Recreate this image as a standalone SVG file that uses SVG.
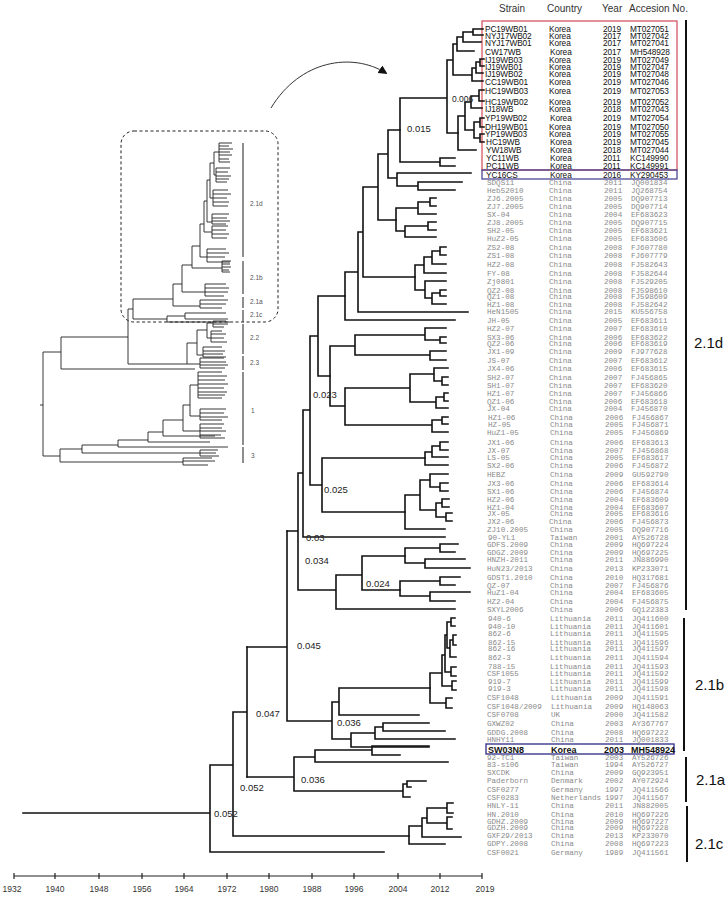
<svg xmlns="http://www.w3.org/2000/svg" width="727" height="897" viewBox="0 0 727 897">
<style>
.t{fill:none;stroke:#111;stroke-width:1.6;stroke-linecap:square}
.i{fill:none;stroke:#222;stroke-width:0.9}
.bar{stroke:#111;stroke-width:2}
.ibar{stroke:#444;stroke-width:1.2}
.k{font-family:"Liberation Sans",Arial,sans-serif;font-size:8.3px;fill:#111;letter-spacing:-0.1px}
.c{font-family:"Liberation Mono","Courier New",monospace;font-size:7.6px;fill:#8a8a8a}
.h{font-family:"Liberation Sans",Arial,sans-serif;font-size:10px;fill:#333}
.bl{font-family:"Liberation Sans",Arial,sans-serif;font-size:9.5px;fill:#222}
.cl{font-family:"Liberation Sans",Arial,sans-serif;font-size:15px;fill:#111}
.il{font-family:"Liberation Sans",Arial,sans-serif;font-size:6.5px;fill:#555}
.ax{font-family:"Liberation Sans",Arial,sans-serif;font-size:8.5px;fill:#333;text-anchor:middle}
</style>
<defs>
<marker id="ah" viewBox="0 0 10 10" refX="8" refY="5" markerWidth="9" markerHeight="9" orient="auto" markerUnits="userSpaceOnUse"><path d="M0 0 L10 5 L0 10 z" fill="#111"/></marker>
</defs>
<rect width="727" height="897" fill="#fff"/>

<g id="header">
<text class="h" x="499" y="12">Strain</text>
<text class="h" x="547" y="12">Country</text>
<text class="h" x="602" y="12">Year</text>
<text class="h" x="629" y="12">Accesion No.</text>
</g>

<g id="boxes" fill="none">
<rect x="482" y="21" width="195" height="149" stroke="#d24a55" stroke-width="1.2"/>
<rect x="482" y="170" width="195" height="9" stroke="#3c3a8e" stroke-width="1.2"/>
<rect x="486" y="744" width="188" height="10" stroke="#3c3a8e" stroke-width="1.4"/>
</g>

<g id="korea-rows" class="k">
<text y="32"><tspan x="485">PC19WB01</tspan><tspan x="549">Korea</tspan><tspan x="603">2019</tspan><tspan x="630">MT027051</tspan></text>
<text y="38.5"><tspan x="485">NYJ17WB02</tspan><tspan x="549">Korea</tspan><tspan x="603">2017</tspan><tspan x="630">MT027042</tspan></text>
<text y="45.5"><tspan x="485">NYJ17WB01</tspan><tspan x="549">Korea</tspan><tspan x="603">2017</tspan><tspan x="630">MT027041</tspan></text>
<text y="54.5"><tspan x="485">CW17WB</tspan><tspan x="550">Korea</tspan><tspan x="603">2017</tspan><tspan x="630">MH548928</tspan></text>
<text y="62.5"><tspan x="485">IJ19WB03</tspan><tspan x="549">Korea</tspan><tspan x="603">2019</tspan><tspan x="630">MT027049</tspan></text>
<text y="69.5"><tspan x="485">IJ19WB01</tspan><tspan x="549">Korea</tspan><tspan x="603">2019</tspan><tspan x="630">MT027047</tspan></text>
<text y="76.5"><tspan x="485">IJ19WB02</tspan><tspan x="549">Korea</tspan><tspan x="603">2019</tspan><tspan x="630">MT027048</tspan></text>
<text y="84.5"><tspan x="485">CC19WB01</tspan><tspan x="549">Korea</tspan><tspan x="603">2019</tspan><tspan x="630">MT027046</tspan></text>
<text y="93.5"><tspan x="485">HC19WB03</tspan><tspan x="549">Korea</tspan><tspan x="603">2019</tspan><tspan x="630">MT027053</tspan></text>
<text y="104.5"><tspan x="485">HC19WB02</tspan><tspan x="549">Korea</tspan><tspan x="603">2019</tspan><tspan x="630">MT027052</tspan></text>
<text y="111.5"><tspan x="485">IJ18WB</tspan><tspan x="549">Korea</tspan><tspan x="603">2018</tspan><tspan x="630">MT027043</tspan></text>
<text y="121"><tspan x="485">YP19WB02</tspan><tspan x="550">Korea</tspan><tspan x="603">2019</tspan><tspan x="630">MT027054</tspan></text>
<text y="130"><tspan x="485">DH19WB01</tspan><tspan x="549">Korea</tspan><tspan x="603">2019</tspan><tspan x="630">MT027050</tspan></text>
<text y="137"><tspan x="485">YP19WB03</tspan><tspan x="549">Korea</tspan><tspan x="603">2019</tspan><tspan x="630">MT027055</tspan></text>
<text y="145"><tspan x="486">HC19WB</tspan><tspan x="550">Korea</tspan><tspan x="603">2019</tspan><tspan x="630">MT027045</tspan></text>
<text y="153"><tspan x="486">YW18WB</tspan><tspan x="550">Korea</tspan><tspan x="603">2018</tspan><tspan x="630">MT027044</tspan></text>
<text y="161"><tspan x="486">YC11WB</tspan><tspan x="550">Korea</tspan><tspan x="603">2011</tspan><tspan x="630">KC149990</tspan></text>
<text y="169"><tspan x="486">PC11WB</tspan><tspan x="550">Korea</tspan><tspan x="603">2011</tspan><tspan x="630">KC149991</tspan></text>
<text y="177.5"><tspan x="486">YC16CS</tspan><tspan x="550">Korea</tspan><tspan x="603">2016</tspan><tspan x="630">KY290453</tspan></text>
</g>

<g id="other-rows" class="c">
<text y="185"><tspan x="487">SDQS11</tspan><tspan x="549">China</tspan><tspan x="604">2011</tspan><tspan x="631">JQ001834</tspan></text>
<text y="193"><tspan x="487">Heb52010</tspan><tspan x="549">China</tspan><tspan x="604">2011</tspan><tspan x="631">JQ268754</tspan></text>
<text y="201"><tspan x="487">ZJ6.2005</tspan><tspan x="549">China</tspan><tspan x="604">2005</tspan><tspan x="631">DQ907713</tspan></text>
<text y="209"><tspan x="487">ZJ7.2005</tspan><tspan x="549">China</tspan><tspan x="604">2005</tspan><tspan x="631">DQ907714</tspan></text>
<text y="217"><tspan x="487">SX-04</tspan><tspan x="549">China</tspan><tspan x="604">2004</tspan><tspan x="631">EF683623</tspan></text>
<text y="225"><tspan x="487">ZJ8.2005</tspan><tspan x="549">China</tspan><tspan x="604">2005</tspan><tspan x="631">DQ907715</tspan></text>
<text y="233"><tspan x="487">SH2-05</tspan><tspan x="549">China</tspan><tspan x="604">2005</tspan><tspan x="631">EF683621</tspan></text>
<text y="240.5"><tspan x="487">HuZ2-05</tspan><tspan x="549">China</tspan><tspan x="604">2005</tspan><tspan x="631">EF683606</tspan></text>
<text y="250"><tspan x="487">ZS2-08</tspan><tspan x="549">China</tspan><tspan x="604">2008</tspan><tspan x="631">FJ607780</tspan></text>
<text y="258"><tspan x="487">ZS1-08</tspan><tspan x="549">China</tspan><tspan x="604">2008</tspan><tspan x="631">FJ607779</tspan></text>
<text y="267"><tspan x="487">HZ2-08</tspan><tspan x="549">China</tspan><tspan x="604">2008</tspan><tspan x="631">FJ582643</tspan></text>
<text y="276"><tspan x="487">FY-08</tspan><tspan x="549">China</tspan><tspan x="604">2008</tspan><tspan x="631">FJ582644</tspan></text>
<text y="284"><tspan x="487">Zj0801</tspan><tspan x="549">China</tspan><tspan x="604">2008</tspan><tspan x="631">FJ529205</tspan></text>
<text y="293"><tspan x="487">QZ2-08</tspan><tspan x="549">China</tspan><tspan x="604">2008</tspan><tspan x="631">FJ598610</tspan></text>
<text y="299"><tspan x="487">QZ1-08</tspan><tspan x="549">China</tspan><tspan x="604">2008</tspan><tspan x="631">FJ598609</tspan></text>
<text y="307"><tspan x="487">HZ1-08</tspan><tspan x="549">China</tspan><tspan x="604">2008</tspan><tspan x="631">FJ582642</tspan></text>
<text y="314"><tspan x="487">HeN1505</tspan><tspan x="549">China</tspan><tspan x="604">2015</tspan><tspan x="631">KU556758</tspan></text>
<text y="323"><tspan x="487">JH-05</tspan><tspan x="549">China</tspan><tspan x="604">2005</tspan><tspan x="631">EF683611</tspan></text>
<text y="331"><tspan x="487">HZ2-07</tspan><tspan x="549">China</tspan><tspan x="604">2007</tspan><tspan x="631">EF683610</tspan></text>
<text y="340"><tspan x="487">SX3-06</tspan><tspan x="549">China</tspan><tspan x="604">2006</tspan><tspan x="631">EF683622</tspan></text>
<text y="346"><tspan x="487">QZ2-06</tspan><tspan x="549">China</tspan><tspan x="604">2006</tspan><tspan x="631">EF683619</tspan></text>
<text y="354"><tspan x="487">JX1-09</tspan><tspan x="549">China</tspan><tspan x="604">2009</tspan><tspan x="631">FJ977628</tspan></text>
<text y="363"><tspan x="487">JS-07</tspan><tspan x="549">China</tspan><tspan x="604">2007</tspan><tspan x="631">EF683612</tspan></text>
<text y="371"><tspan x="487">JX4-06</tspan><tspan x="549">China</tspan><tspan x="604">2006</tspan><tspan x="631">EF683615</tspan></text>
<text y="380"><tspan x="487">SH2-07</tspan><tspan x="549">China</tspan><tspan x="604">2007</tspan><tspan x="631">FJ456865</tspan></text>
<text y="388"><tspan x="487">SH1-07</tspan><tspan x="549">China</tspan><tspan x="604">2007</tspan><tspan x="631">EF683620</tspan></text>
<text y="396"><tspan x="487">HZ1-07</tspan><tspan x="549">China</tspan><tspan x="604">2007</tspan><tspan x="631">FJ456866</tspan></text>
<text y="404"><tspan x="487">QZ1-06</tspan><tspan x="549">China</tspan><tspan x="604">2006</tspan><tspan x="631">EF683618</tspan></text>
<text y="411"><tspan x="487">JX-04</tspan><tspan x="549">China</tspan><tspan x="604">2004</tspan><tspan x="631">FJ456870</tspan></text>
<text y="420"><tspan x="488">HZ1-06</tspan><tspan x="550">China</tspan><tspan x="605">2006</tspan><tspan x="632">FJ456867</tspan></text>
<text y="427"><tspan x="488">HZ-05</tspan><tspan x="550">China</tspan><tspan x="605">2005</tspan><tspan x="632">FJ456871</tspan></text>
<text y="435"><tspan x="487">HuZ1-05</tspan><tspan x="550">China</tspan><tspan x="605">2005</tspan><tspan x="632">FJ456869</tspan></text>
<text y="445"><tspan x="487">JX1-06</tspan><tspan x="550">China</tspan><tspan x="605">2006</tspan><tspan x="632">EF683613</tspan></text>
<text y="453"><tspan x="487">JX-07</tspan><tspan x="550">China</tspan><tspan x="605">2007</tspan><tspan x="632">FJ456868</tspan></text>
<text y="460"><tspan x="487">LS-05</tspan><tspan x="550">China</tspan><tspan x="605">2005</tspan><tspan x="632">EF683617</tspan></text>
<text y="468"><tspan x="487">SX2-06</tspan><tspan x="550">China</tspan><tspan x="605">2006</tspan><tspan x="632">FJ456872</tspan></text>
<text y="477"><tspan x="487">HEBZ</tspan><tspan x="550">China</tspan><tspan x="605">2009</tspan><tspan x="632">GU592790</tspan></text>
<text y="486"><tspan x="487">JX3-06</tspan><tspan x="550">China</tspan><tspan x="605">2006</tspan><tspan x="632">EF683614</tspan></text>
<text y="494"><tspan x="487">SX1-06</tspan><tspan x="550">China</tspan><tspan x="605">2006</tspan><tspan x="632">FJ456874</tspan></text>
<text y="502"><tspan x="487">HZ2-06</tspan><tspan x="550">China</tspan><tspan x="605">2004</tspan><tspan x="632">EF683609</tspan></text>
<text y="510"><tspan x="487">HZ1-04</tspan><tspan x="550">China</tspan><tspan x="605">2004</tspan><tspan x="632">EF683607</tspan></text>
<text y="516"><tspan x="487">JX-05</tspan><tspan x="550">China</tspan><tspan x="605">2005</tspan><tspan x="632">EF683616</tspan></text>
<text y="524"><tspan x="487">JX2-06</tspan><tspan x="549">China</tspan><tspan x="605">2006</tspan><tspan x="632">FJ456873</tspan></text>
<text y="532"><tspan x="487">ZJ10.2005</tspan><tspan x="550">China</tspan><tspan x="605">2005</tspan><tspan x="632">DQ907716</tspan></text>
<text y="540"><tspan x="488">90-YL1</tspan><tspan x="550">Taiwan</tspan><tspan x="605">2001</tspan><tspan x="632">AY526728</tspan></text>
<text y="547"><tspan x="487">GDFS.2009</tspan><tspan x="550">China</tspan><tspan x="605">2009</tspan><tspan x="632">HQ697224</tspan></text>
<text y="555"><tspan x="487">GDGZ.2009</tspan><tspan x="550">China</tspan><tspan x="605">2009</tspan><tspan x="632">HQ697225</tspan></text>
<text y="562"><tspan x="487">HNZH-2011</tspan><tspan x="550">China</tspan><tspan x="605">2011</tspan><tspan x="632">JN886990</tspan></text>
<text y="571"><tspan x="487">HuN23/2013</tspan><tspan x="550">China</tspan><tspan x="605">2013</tspan><tspan x="632">KP233071</tspan></text>
<text y="580"><tspan x="487">GDST1.2010</tspan><tspan x="550">China</tspan><tspan x="605">2010</tspan><tspan x="632">HQ317681</tspan></text>
<text y="588"><tspan x="487">QZ-07</tspan><tspan x="550">China</tspan><tspan x="605">2007</tspan><tspan x="632">FJ456876</tspan></text>
<text y="595"><tspan x="487">HuZ1-04</tspan><tspan x="550">China</tspan><tspan x="605">2004</tspan><tspan x="632">EF683605</tspan></text>
<text y="604"><tspan x="487">HZ2-04</tspan><tspan x="550">China</tspan><tspan x="605">2004</tspan><tspan x="632">FJ456875</tspan></text>
<text y="612"><tspan x="487">SXYL2006</tspan><tspan x="550">China</tspan><tspan x="605">2006</tspan><tspan x="632">GQ122383</tspan></text>
<text y="621"><tspan x="488">940-6</tspan><tspan x="550">Lithuania</tspan><tspan x="605">2011</tspan><tspan x="632">JQ411600</tspan></text>
<text y="629"><tspan x="488">940-10</tspan><tspan x="550">Lithuania</tspan><tspan x="605">2011</tspan><tspan x="632">JQ411601</tspan></text>
<text y="636"><tspan x="488">862-6</tspan><tspan x="550">Lithuania</tspan><tspan x="605">2011</tspan><tspan x="632">JQ411595</tspan></text>
<text y="645"><tspan x="488">862-15</tspan><tspan x="550">Lithuania</tspan><tspan x="605">2011</tspan><tspan x="632">JQ411596</tspan></text>
<text y="651"><tspan x="488">862-16</tspan><tspan x="550">Lithuania</tspan><tspan x="605">2011</tspan><tspan x="632">JQ411597</tspan></text>
<text y="660"><tspan x="488">862-3</tspan><tspan x="550">Lithuania</tspan><tspan x="605">2011</tspan><tspan x="632">JQ411594</tspan></text>
<text y="669"><tspan x="488">788-15</tspan><tspan x="550">Lithuania</tspan><tspan x="605">2011</tspan><tspan x="632">JQ411593</tspan></text>
<text y="676"><tspan x="487">CSF1055</tspan><tspan x="550">Lithuania</tspan><tspan x="605">2011</tspan><tspan x="632">JQ411592</tspan></text>
<text y="684"><tspan x="488">919-7</tspan><tspan x="550">Lithuania</tspan><tspan x="605">2011</tspan><tspan x="632">JQ411599</tspan></text>
<text y="691"><tspan x="488">919-3</tspan><tspan x="550">Lithuania</tspan><tspan x="605">2011</tspan><tspan x="632">JQ411598</tspan></text>
<text y="700"><tspan x="487">CSF1048</tspan><tspan x="551">Lithuania</tspan><tspan x="605">2009</tspan><tspan x="632">JQ411591</tspan></text>
<text y="709"><tspan x="487">CSF1048/2009</tspan><tspan x="551">Lithuania</tspan><tspan x="605">2009</tspan><tspan x="632">HQ148063</tspan></text>
<text y="717"><tspan x="487">CSF0708</tspan><tspan x="551">UK</tspan><tspan x="605">2000</tspan><tspan x="632">JQ411582</tspan></text>
<text y="726"><tspan x="487">GXWZ02</tspan><tspan x="551">China</tspan><tspan x="605">2003</tspan><tspan x="632">AY367767</tspan></text>
<text y="735"><tspan x="487">GDDG.2008</tspan><tspan x="551">China</tspan><tspan x="605">2008</tspan><tspan x="632">HQ697222</tspan></text>
<text y="742"><tspan x="487">HNHY11</tspan><tspan x="551">China</tspan><tspan x="605">2011</tspan><tspan x="632">JQ001833</tspan></text>
<text y="760"><tspan x="487">92-TC1</tspan><tspan x="551">Taiwan</tspan><tspan x="605">2003</tspan><tspan x="632">AY526726</tspan></text>
<text y="767"><tspan x="487">83-s106</tspan><tspan x="551">Taiwan</tspan><tspan x="605">1994</tspan><tspan x="632">AY526727</tspan></text>
<text y="775"><tspan x="487">SXCDK</tspan><tspan x="551">China</tspan><tspan x="605">2009</tspan><tspan x="632">GQ923951</tspan></text>
<text y="783"><tspan x="487">Paderborn</tspan><tspan x="551">Denmark</tspan><tspan x="605">2002</tspan><tspan x="632">AY072924</tspan></text>
<text y="792"><tspan x="487">CSF0277</tspan><tspan x="551">Germany</tspan><tspan x="605">1997</tspan><tspan x="632">JQ411566</tspan></text>
<text y="800"><tspan x="487">CSF0283</tspan><tspan x="551">Netherlands</tspan><tspan x="605">1997</tspan><tspan x="632">JQ411567</tspan></text>
<text y="808"><tspan x="487">HNLY-11</tspan><tspan x="551">China</tspan><tspan x="605">2011</tspan><tspan x="632">JN882005</tspan></text>
<text y="817"><tspan x="487">HN.2010</tspan><tspan x="551">China</tspan><tspan x="605">2010</tspan><tspan x="632">HQ697226</tspan></text>
<text y="824"><tspan x="487">GDHZ.2009</tspan><tspan x="551">China</tspan><tspan x="605">2009</tspan><tspan x="632">HQ697227</tspan></text>
<text y="830"><tspan x="487">GDZH.2009</tspan><tspan x="551">China</tspan><tspan x="605">2009</tspan><tspan x="632">HQ697228</tspan></text>
<text y="838"><tspan x="487">GXF29/2013</tspan><tspan x="551">China</tspan><tspan x="605">2013</tspan><tspan x="632">KP233070</tspan></text>
<text y="846"><tspan x="487">GDPY.2008</tspan><tspan x="551">China</tspan><tspan x="605">2008</tspan><tspan x="632">HQ697223</tspan></text>
<text y="855"><tspan x="487">CSF0021</tspan><tspan x="551">Germany</tspan><tspan x="605">1989</tspan><tspan x="632">JQ411561</tspan></text>
</g>
<g id="sw03n8-row" style="font-family:'Liberation Sans',Arial,sans-serif;font-size:9px;font-weight:bold;fill:#111">
<text y="752.5"><tspan x="488">SW03N8</tspan><tspan x="551">Korea</tspan><tspan x="604">2003</tspan><tspan x="631">MH548924</tspan></text>
</g>

<g id="clades">
<line class="bar" x1="686" y1="20" x2="686" y2="610"/>
<line class="bar" x1="684" y1="618" x2="684" y2="751"/>
<line class="bar" x1="686" y1="757" x2="686" y2="802"/>
<line class="bar" x1="687" y1="806" x2="687" y2="862"/>
<text class="cl" x="694" y="348">2.1d</text>
<text class="cl" x="695" y="690">2.1b</text>
<text class="cl" x="696" y="785">2.1a</text>
<text class="cl" x="695" y="849">2.1c</text>
</g>

<g id="main-tree" class="t">
<path d="M23 813H210M210 765V852M210 852H384M210 765H233M233 712V836M233 836H409M233 712H247M247 647V777"/>
<path d="M409 826V844M409 844H445M409 826H422M422 818V837M422 837H461M422 818H427M427 808V823M427 808H447M447 803V813M447 803H453M447 813H453M427 823H447M447 817V829M447 817H452M447 829H452"/>
<path d="M247 777H294M294 757V791M294 757H315M315 750V762M315 750H372M372 746V755M372 746H429M372 755H400M315 762H448M294 791H403M403 784V797M403 784H407M407 781V787M407 781H426M407 787H411M403 797H410"/>
<path d="M247 647H287M287 531V721M287 721H332M332 702V739M332 702H339M339 688V715M339 688H430M339 715H419M332 739H351M351 733V747M351 733H375M351 747H429M375 727V739M375 727H383M375 739H455M383 723V731M383 723H429M383 731H445"/>
<path d="M430 673V703M430 673H442M430 703H446M446 698V708M446 698H452M446 708H452M442 655V686M442 655H445M442 686H452M452 681V690M452 681H456M452 690H456M445 635V672M445 635H447M445 672H451M451 667V676M451 667H456M451 676H456M447 622V648M447 622H451M451 618V626M451 618H455M451 626H455M447 648H450M450 640V657M450 640H453M453 635V645M453 635H456M453 645H456M450 657H456"/>
<path d="M287 531H298M298 473V590M298 590H336M336 575V609M336 609H455M336 575H362M362 556V590M362 556H405M362 590H400M298 473H303M303 410V537M303 537H445M303 410H310M310 336V485M310 485H322M322 458V512M322 458H425M322 512H405M310 336H318M318 296V376M318 296H345M318 376H330"/>
<path d="M405 548V563M405 548H440M440 544V552M440 544H458M440 552H455M405 563H425M425 559V568M425 559H465M425 568H470M400 581V596M400 581H440M440 577V585M440 577H460M440 585H455M400 596H430M430 592V601M430 592H470M430 601H455"/>
<path d="M425 452V465M425 452H432M425 465H448M432 446V457M432 446H440M432 457H448M440 442V450M440 442H448M440 450H448M405 495V529M405 495H420M405 529H445M420 480V510M420 480H430M420 510H436M430 474V487M430 474H448M430 487H440M440 483V491M440 483H448M440 491H448M436 503V517M436 503H442M436 517H446M442 499V507M442 499H449M442 507H449M446 513V521M446 513H452M446 521H452"/>
<path d="M330 346V406M330 346H355M330 406H345M345 388V425M345 388H410M345 425H432M355 335V355M355 335H425M355 355H430M425 328V340M425 328H446M425 340H440M440 337V343M440 337H446M440 343H446M430 351V360M430 351H446M430 360H446M410 374V402M410 374H434M410 402H436M434 368V381M434 368H448M434 381H442M442 377V385M442 377H448M442 385H448M436 397V408M436 397H444M436 408H448M444 393V401M444 393H448M444 401H448M432 420V432M432 420H442M432 432H448M442 417V424M442 417H448M442 424H448"/>
<path d="M345 272V320M345 272H358M345 320H455M358 232V312M358 232H363M358 312H468M363 187V277M363 187H378M363 277H415M378 154V220M378 154H388M378 220H396M388 130V178M388 130H400M388 178H397M397 173V186M397 173H471M397 186H418M418 182V190M418 182H462M418 190H455"/>
<path d="M396 208V231M396 208H418M396 231H405M418 202V214M418 202H430M418 214H436M430 198V206M430 198H436M430 206H436M405 226V237M405 226H428M405 237H436M428 222V230M428 222H436M428 230H436"/>
<path d="M415 265V290M415 265H424M415 290H425M424 257V273M424 257H432M424 273H446M432 251V264M432 251H440M432 264H446M440 247V255M440 247H446M440 255H446M425 281V298M425 281H446M425 298H432M432 293V304M432 293H440M432 304H446M440 290V296M440 290H446M440 296H446"/>
<path d="M400 98V162M400 98H447M400 162H440M440 158V166M440 158H455M440 166H455M447 60V133M447 60H453M447 133H458M453 44V75M453 44H457M453 75H472M457 37V51M457 37H463M457 51H474M463 32V42M463 32H473M463 42H481M473 29V35M473 29H483M473 35H483M472 68V81M472 68H476M472 81H483M476 62V73M476 62H480M476 73H483M480 59V66M480 59H484M480 66H484"/>
<path d="M458 116V150M458 116H465M458 150H476M465 102V130M465 102H471M465 130H474M471 96V108M471 96H479M471 108H482M479 90V101M479 90H484M479 101H484M474 122V138M474 122H480M474 138H480M480 118V127M480 118H484M480 127H484M480 134V142M480 134H484M480 142H484"/>
</g>

<g id="branch-labels" class="bl">
<text x="214" y="816.5">0.052</text>
<text x="240" y="790.5">0.052</text>
<text x="256" y="716.5">0.047</text>
<text x="297" y="648.5">0.045</text>
<text x="301" y="782.5">0.036</text>
<text x="337" y="725.5">0.036</text>
<text x="305" y="564">0.034</text>
<text x="306" y="541">0.03</text>
<text x="366" y="587">0.024</text>
<text x="324" y="493">0.025</text>
<text x="313" y="398">0.023</text>
<text x="407" y="131.5">0.015</text>
<text x="452" y="101.5" style="font-size:8.5px">0.006</text>
</g>

<g id="axis">
<line x1="14" y1="876" x2="482" y2="876" stroke="#222" stroke-width="1.2"/>
<path d="M14 873V879M55 873V879M99 873V879M142 873V879M184 873V879M227 873V879M269 873V879M312 873V879M354 873V879M398 873V879M440 873V879M482 873V879" stroke="#222" stroke-width="1.2"/>
<text class="ax" x="12" y="892">1932</text>
<text class="ax" x="55" y="892">1940</text>
<text class="ax" x="99" y="892">1948</text>
<text class="ax" x="142" y="892">1956</text>
<text class="ax" x="184" y="892">1964</text>
<text class="ax" x="227" y="892">1972</text>
<text class="ax" x="269" y="892">1980</text>
<text class="ax" x="312" y="892">1988</text>
<text class="ax" x="354" y="892">1996</text>
<text class="ax" x="398" y="892">2004</text>
<text class="ax" x="440" y="892">2012</text>
<text class="ax" x="485" y="892">2019</text>
</g>

<g id="zoom-arrow">
<path d="M271 108 C300 60 352 52 386 73" fill="none" stroke="#333" stroke-width="1" marker-end="url(#ah)"/>
</g>

<g id="inset-box">
<rect x="121" y="131" width="157" height="191" rx="13" fill="none" stroke="#222" stroke-width="1" stroke-dasharray="3 2.5"/>
</g>
<g id="inset-tree" class="i">
<path d="M40 405H43M43 352V456M43 352H61M61 337V369M61 337H128M61 369H195M128 309V364M128 364H187M128 309H133M133 299V319M133 319H167M133 299H173"/>
<path d="M167 316V322M167 316H185M167 322H230M185 313V319M185 313H226M185 319H228"/>
<path d="M173 284V306M173 306H200M200 300V308M200 300H228M200 304H226M200 308H222M173 284H182M182 265V292M182 292H205M205 284V296M205 284H226M205 288H229M205 292H228M205 296H224M182 265H192M192 246V268M192 268H222M222 261V272M222 261H231M222 264H230M222 267H231M222 270H229M222 272H230M192 246H200M200 224V257M200 257H207M207 249V262M207 249H226M207 253H229M207 257H225M207 262H230M200 224H204"/>
<path d="M204 201V232M204 232H212M212 226V238M212 226H228M212 230H226M212 234H229M212 238H227M204 201H207M207 180V222M207 222H212M212 214V224M212 214H229M212 218H227M212 221H230M212 224H226M207 180H210M210 163V198M210 198H213M213 190V206M213 190H228M213 194H231M213 198H227M213 202H229M213 206H228M210 163H214M214 152V175M214 175H216M216 168V182M216 168H230M216 172H228M216 176H231M216 179H229M216 182H227M214 152H219M219 143V162M219 143H232M219 146H229M219 149H233M219 152H230M219 155H232M219 159H229M219 162H230"/>
<path d="M187 343V364M187 343H197M187 364H200M200 358V368M200 358H224M200 362H226M200 365H228M200 368H225M197 330V355M197 330H207M197 355H203M203 347V357M203 347H222M203 351H225M203 354H223M203 357H226M207 323V338M207 323H213M213 321V327M213 321H226M213 324H228M213 327H224M207 338H211M211 331V342M211 331H222M211 334H226M211 338H224M211 342H227"/>
<path d="M43 456H60M60 449V462M60 462H183M183 458V465M183 458H212M183 461H215M183 465H208M60 449H82M82 445V453M82 453H200M200 450V456M200 450H218M200 453H216M200 456H219M82 445H118M118 440V447M118 447H228M118 440H148M148 432V442M148 442H210M148 432H163M163 420V436M163 436H215M163 420H183M183 405V431M183 431H200M200 424V438M200 424H224M200 428H222M200 431H226M200 435H221M200 438H225M183 405H190M190 385V416M190 416H200M200 409V420M200 409H226M200 413H224M200 417H228M200 420H222M190 385H198M198 372V398M198 372H222M198 376H227M198 380H225M198 384H228M198 388H224M198 392H227M198 395H225M198 398H222"/>
</g>
<g id="inset-bars">
<path class="ibar" d="M243 143V257M243 261V294M243 297V308M243 310V322M243 324V354M243 356V370M243 372V445M243 447V463"/>
<text class="il" x="250" y="206">2.1d</text>
<text class="il" x="250" y="280">2.1b</text>
<text class="il" x="250" y="304">2.1a</text>
<text class="il" x="250" y="317">2.1c</text>
<text class="il" x="250" y="340">2.2</text>
<text class="il" x="250" y="365">2.3</text>
<text class="il" x="251" y="413">1</text>
<text class="il" x="251" y="458">3</text>
</g>
</svg>
